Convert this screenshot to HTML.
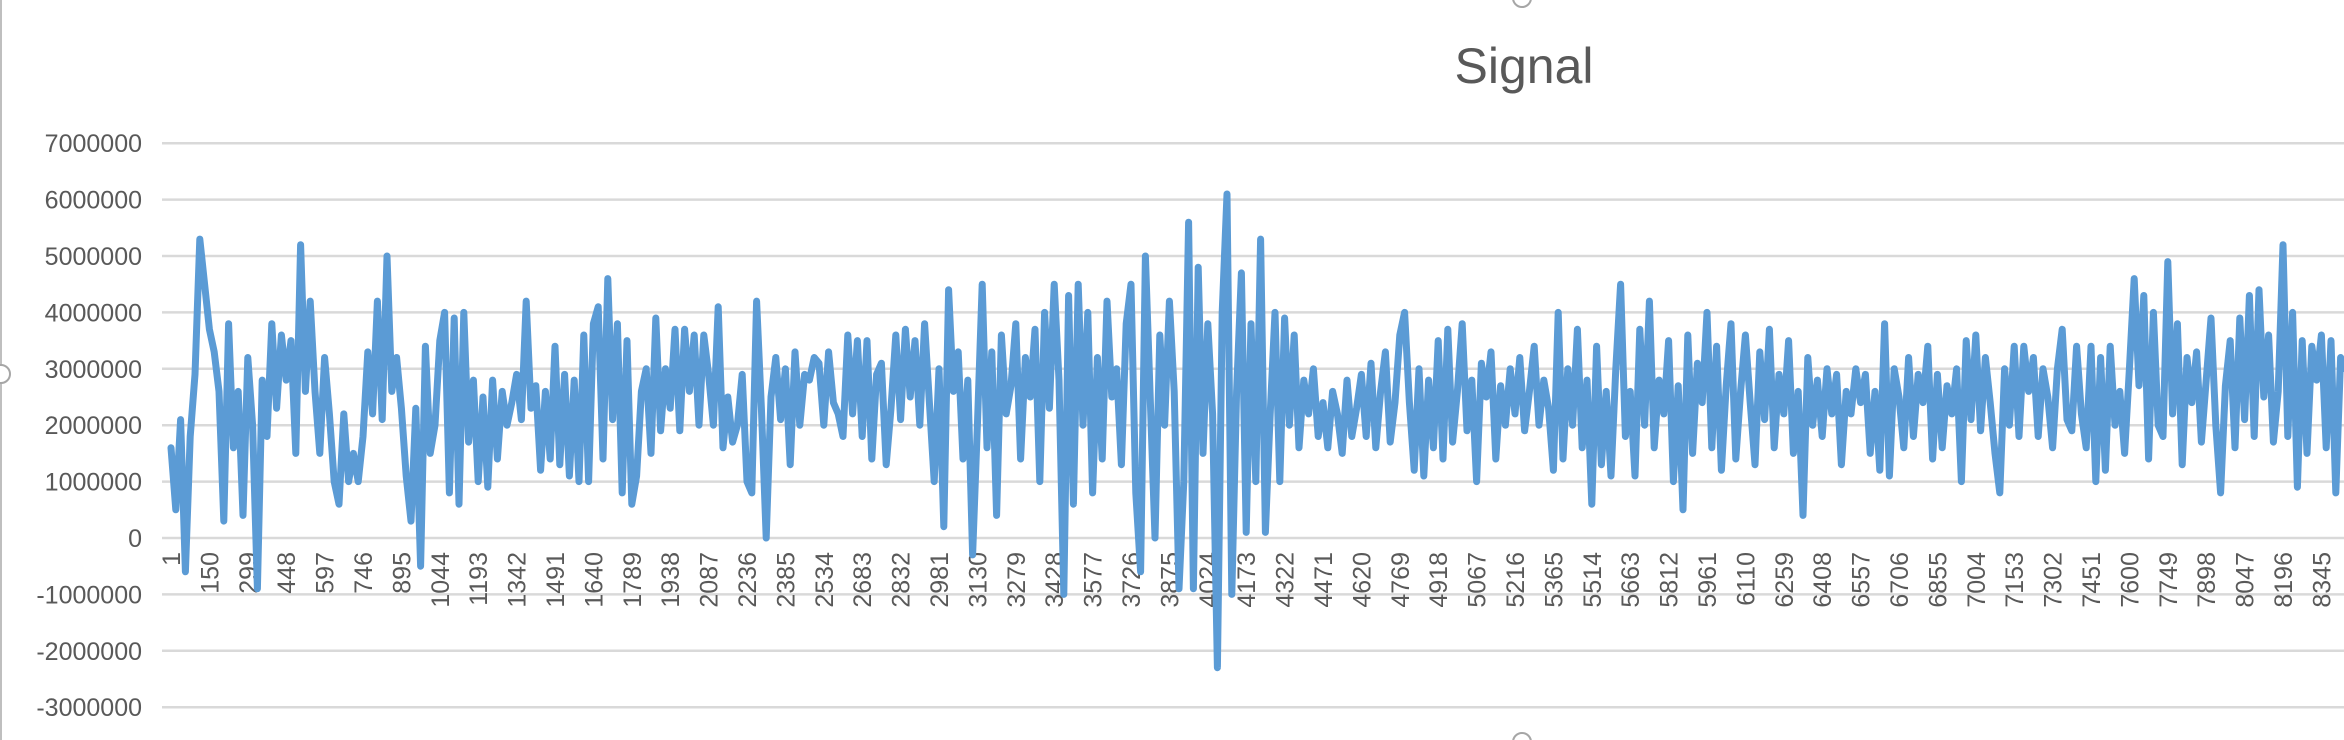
<!DOCTYPE html>
<html><head><meta charset="utf-8"><style>
html,body{margin:0;padding:0;background:#fff;}
svg{display:block;font-family:"Liberation Sans",Arial,sans-serif;}
</style></head><body>
<svg id="chart" width="2344" height="740" viewBox="0 0 2344 740" xmlns="http://www.w3.org/2000/svg">
<rect x="0" y="0" width="2344" height="740" fill="#fff"/>
<line x1="1" y1="0" x2="1" y2="740" stroke="#bfbfbf" stroke-width="2"/>
<circle cx="1" cy="374" r="9" fill="#fff" stroke="#a6a6a6" stroke-width="2"/>
<circle cx="1522" cy="-2" r="9" fill="#fff" stroke="#a6a6a6" stroke-width="2"/>
<circle cx="1522" cy="742" r="9" fill="#fff" stroke="#a6a6a6" stroke-width="2"/>
<text x="1524" y="83" font-size="50" fill="#595959" text-anchor="middle">Signal</text>
<g id="grid"></g><g id="ylabels"></g><g id="xlabels"></g>
<defs><clipPath id="plotclip"><rect x="160" y="100" width="2184" height="640"/></clipPath></defs>
<g id="series" clip-path="url(#plotclip)"></g>
</svg>
<script>
const yTicks = [7000000,6000000,5000000,4000000,3000000,2000000,1000000,0,-1000000,-2000000,-3000000];
const catStep = 149;
const labelCount = 57;
const samplesPerLabel = 8;
// signal values in millions, 8 samples per 149-category label interval
const signalMillions = [
1.6,0.5,2.1,-0.6,1.8,2.9,5.3,4.5,
3.7,3.3,2.6,0.3,3.8,1.6,2.6,0.4,
3.2,2.0,-0.9,2.8,1.8,3.8,2.3,3.6,
2.8,3.5,1.5,5.2,2.6,4.2,2.6,1.5,
3.2,2.2,1.0,0.6,2.2,1.0,1.5,1.0,
1.8,3.3,2.2,4.2,2.1,5.0,2.6,3.2,
2.3,1.1,0.3,2.3,-0.5,3.4,1.5,2.0,
3.5,4.0,0.8,3.9,0.6,4.0,1.7,2.8,
1.0,2.5,0.9,2.8,1.4,2.6,2.0,2.4,
2.9,2.1,4.2,2.3,2.7,1.2,2.6,1.4,
3.4,1.3,2.9,1.1,2.8,1.0,3.6,1.0,
3.8,4.1,1.4,4.6,2.1,3.8,0.8,3.5,
0.6,1.1,2.6,3.0,1.5,3.9,1.9,3.0,
2.3,3.7,1.9,3.7,2.6,3.6,2.0,3.6,
2.9,2.0,4.1,1.6,2.5,1.7,2.0,2.9,
1.0,0.8,4.2,2.3,0.0,2.5,3.2,2.1,
3.0,1.3,3.3,2.0,2.9,2.8,3.2,3.1,
2.0,3.3,2.4,2.2,1.8,3.6,2.2,3.5,
1.8,3.5,1.4,2.9,3.1,1.3,2.3,3.6,
2.1,3.7,2.5,3.5,2.0,3.8,2.4,1.0,
3.0,0.2,4.4,2.6,3.3,1.4,2.8,-0.3,
2.0,4.5,1.6,3.3,0.4,3.6,2.2,2.7,
3.8,1.4,3.2,2.5,3.7,1.0,4.0,2.3,
4.5,2.8,-1.0,4.3,0.6,4.5,2.0,4.0,
0.8,3.2,1.4,4.2,2.5,3.0,1.3,3.8,
4.5,0.8,-0.6,5.0,2.5,0.0,3.6,2.0,
4.2,2.6,-0.9,1.0,5.6,-0.9,4.8,1.5,
3.8,2.2,-2.3,4.0,6.1,-1.0,2.6,4.7,
0.1,3.8,1.0,5.3,0.1,2.2,4.0,1.0,
3.9,2.0,3.6,1.6,2.8,2.2,3.0,1.8,
2.4,1.6,2.6,2.2,1.5,2.8,1.8,2.3,
2.9,1.8,3.1,1.6,2.6,3.3,1.7,2.4,
3.6,4.0,2.4,1.2,3.0,1.1,2.8,1.6,
3.5,1.4,3.7,1.7,2.6,3.8,1.9,2.8,
1.0,3.1,2.5,3.3,1.4,2.7,2.0,3.0,
2.2,3.2,1.9,2.6,3.4,2.0,2.8,2.3,
1.2,4.0,1.4,3.0,2.0,3.7,1.6,2.8,
0.6,3.4,1.3,2.6,1.1,3.0,4.5,1.8,
2.6,1.1,3.7,2.0,4.2,1.6,2.8,2.2,
3.5,1.0,2.7,0.5,3.6,1.5,3.1,2.4,
4.0,1.6,3.4,1.2,2.7,3.8,1.4,2.6,
3.6,2.4,1.3,3.3,2.1,3.7,1.6,2.9,
2.2,3.5,1.5,2.6,0.4,3.2,2.0,2.8,
1.8,3.0,2.2,2.9,1.3,2.6,2.2,3.0,
2.4,2.9,1.5,2.6,1.2,3.8,1.1,3.0,
2.5,1.6,3.2,1.8,2.9,2.4,3.4,1.4,
2.9,1.6,2.7,2.2,3.0,1.0,3.5,2.1,
3.6,1.9,3.2,2.4,1.5,0.8,3.0,2.0,
3.4,1.8,3.4,2.6,3.2,1.8,3.0,2.5,
1.6,3.0,3.7,2.1,1.9,3.4,2.2,1.6,
3.4,1.0,3.2,1.2,3.4,2.0,2.6,1.5,
3.0,4.6,2.7,4.3,1.4,4.0,2.0,1.8,
4.9,2.2,3.8,1.3,3.2,2.4,3.3,1.7,
2.8,3.9,2.0,0.8,2.7,3.5,1.6,3.9,
2.1,4.3,1.8,4.4,2.5,3.6,1.7,2.6,
5.2,1.8,4.0,0.9,3.5,1.5,3.4,2.8,
3.6,1.6,3.5,0.8,3.2,3.0,3.0,3.0
];
const NS = 'http://www.w3.org/2000/svg';
const x0 = 171, pxPerCat = 38.4/149;
function xScale(cat){ return x0 + (cat-1)*pxPerCat; }
const y0 = 538, pxPerUnit = 56.4/1000000;
function yScale(v){ return y0 - v*pxPerUnit; }

const grid = document.getElementById('grid');
const yl = document.getElementById('ylabels');
yTicks.forEach(t=>{
  const l = document.createElementNS(NS,'line');
  l.setAttribute('x1',162); l.setAttribute('x2',2344);
  l.setAttribute('y1',yScale(t)); l.setAttribute('y2',yScale(t));
  l.setAttribute('stroke','#d9d9d9'); l.setAttribute('stroke-width','2.5');
  
  
  grid.appendChild(l);
  const tx = document.createElementNS(NS,'text');
  tx.setAttribute('x',142); tx.setAttribute('y',yScale(t)+9);
  tx.setAttribute('text-anchor','end'); tx.setAttribute('font-size','25');
  tx.setAttribute('fill','#595959');
  tx.textContent = String(t);
  
  
  yl.appendChild(tx);
});
const xl = document.getElementById('xlabels');
for(let k=0;k<labelCount;k++){
  const cat = 1 + k*catStep;
  const x = xScale(cat)+9, y = 552;
  const tx = document.createElementNS(NS,'text');
  tx.setAttribute('x',x); tx.setAttribute('y',y);
  tx.setAttribute('transform','rotate(-90 '+x+' '+y+')');
  tx.setAttribute('text-anchor','end'); tx.setAttribute('font-size','25');
  tx.setAttribute('fill','#595959');
  tx.textContent = String(cat);
  
  
  xl.appendChild(tx);
}
let d = '';
signalMillions.forEach((v,i)=>{
  const cat = 1 + i*catStep/samplesPerLabel;
  d += (i?'L':'M') + xScale(cat).toFixed(1) + ' ' + yScale(v*1000000).toFixed(1);
});
const p = document.createElementNS(NS,'path');
p.setAttribute('d',d); p.setAttribute('fill','none');
p.setAttribute('stroke','#5B9BD5'); p.setAttribute('stroke-width','7');
p.setAttribute('stroke-linejoin','round'); p.setAttribute('stroke-linecap','round');


document.getElementById('series').appendChild(p);
</script>
</body></html>
